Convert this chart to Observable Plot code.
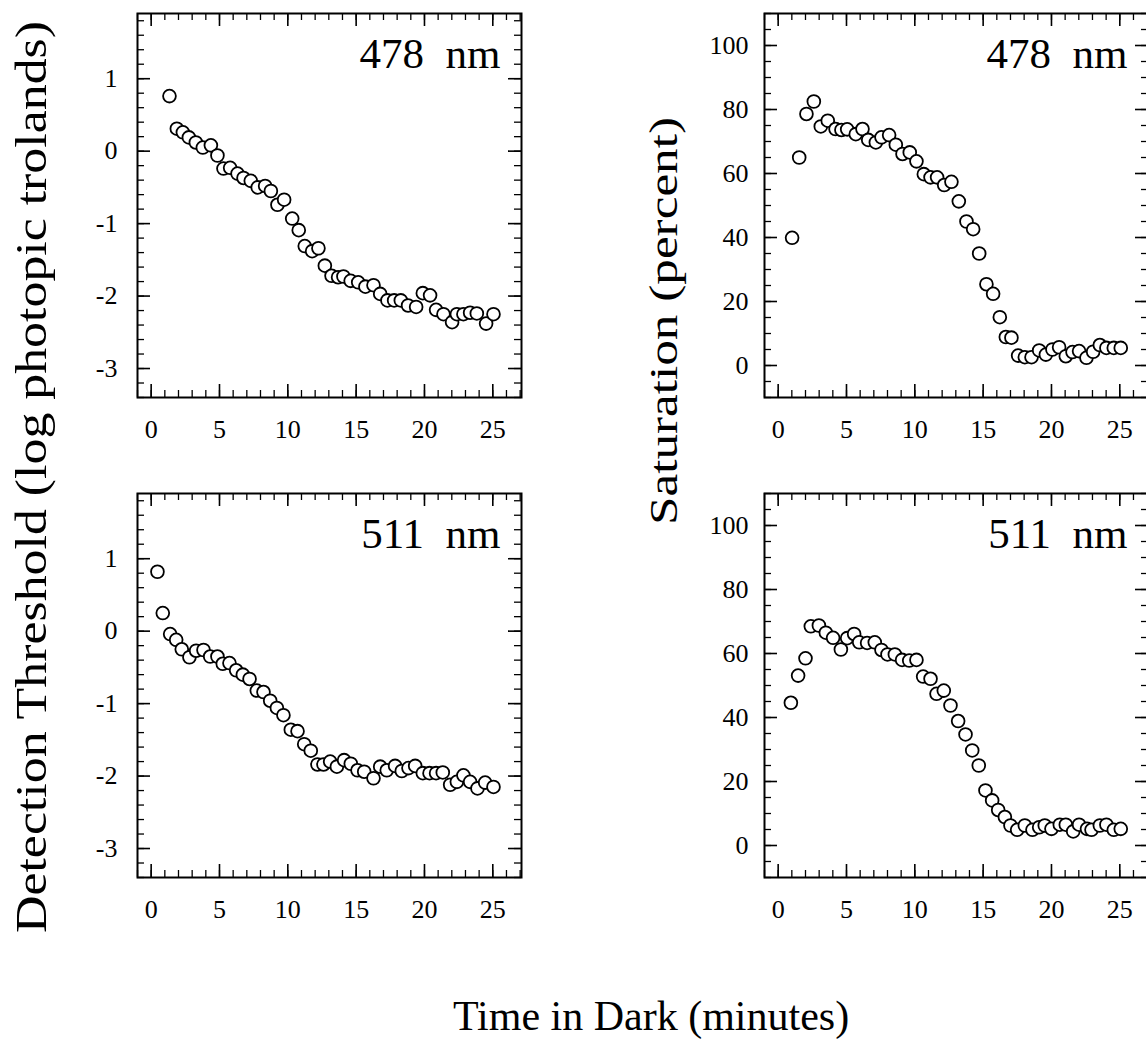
<!DOCTYPE html>
<html><head><meta charset="utf-8">
<script src="https://cdn.jsdelivr.net/npm/d3@7"></script>
<script src="https://cdn.jsdelivr.net/npm/@observablehq/plot@0.6"></script>
<style>
html,body{margin:0;padding:0;background:#fff;overflow:hidden;}
#wrap{position:relative;width:1146px;height:1046px;overflow:hidden;background:#fff;}
#wrap svg.panel{position:absolute;}
#titles{position:absolute;left:0;top:0;}
</style></head><body><div id="wrap"></div>
<script>
// ---- data ----
const time478Thr = [1.34,1.88,2.32,2.76,3.27,3.78,4.37,4.85,5.29,5.78,6.32,6.76,7.29,7.8,8.34,8.76,9.24,9.73,10.32,10.8,11.24,11.78,12.24,12.71,13.2,13.68,14.07,14.6,15.15,15.68,16.27,16.76,17.29,17.78,18.27,18.8,19.39,19.88,20.41,20.85,21.39,22.02,22.37,22.85,23.34,23.83,24.51,25.05];
const thr478 = [0.76,0.31,0.26,0.19,0.12,0.05,0.08,-0.06,-0.24,-0.23,-0.31,-0.37,-0.41,-0.5,-0.48,-0.55,-0.74,-0.67,-0.93,-1.09,-1.31,-1.38,-1.34,-1.58,-1.72,-1.74,-1.73,-1.79,-1.81,-1.87,-1.85,-1.97,-2.06,-2.06,-2.06,-2.13,-2.15,-1.96,-1.99,-2.19,-2.25,-2.36,-2.25,-2.25,-2.23,-2.24,-2.38,-2.25];

const time478Sat = [1.02,1.54,2.07,2.61,3.12,3.63,4.2,4.63,5.05,5.68,6.17,6.59,7.15,7.56,8.12,8.61,9.1,9.63,10.12,10.66,11.15,11.63,12.15,12.68,13.22,13.78,14.27,14.71,15.24,15.73,16.22,16.66,17.07,17.56,18.05,18.54,19.1,19.59,20.07,20.56,21.05,21.54,22.02,22.56,23.05,23.54,24.02,24.56,25.07];
const sat478 = [39.9,65,78.6,82.5,74.7,76.5,73.9,73.6,73.8,72.3,73.9,70.5,69.7,71.3,72,69,66.1,66.6,63.8,59.8,58.8,58.8,56.4,57.4,51.3,45,42.6,35,25.4,22.4,15.1,8.9,8.7,3.1,2.6,2.6,4.7,3.4,5,5.7,2.9,4.2,4.5,2.4,4.3,6.4,5.5,5.5,5.5];

const time511Thr = [0.46,0.85,1.39,1.83,2.24,2.8,3.29,3.83,4.32,4.85,5.24,5.73,6.22,6.71,7.2,7.73,8.22,8.71,9.2,9.68,10.22,10.71,11.2,11.68,12.17,12.61,13.1,13.59,14.12,14.61,15.1,15.59,16.27,16.76,17.24,17.85,18.34,18.83,19.32,19.88,20.37,20.85,21.34,21.88,22.37,22.85,23.34,23.88,24.44,25.05];
const thr511 = [0.82,0.25,-0.04,-0.12,-0.25,-0.36,-0.27,-0.26,-0.35,-0.35,-0.45,-0.44,-0.54,-0.6,-0.66,-0.82,-0.84,-0.96,-1.06,-1.16,-1.36,-1.38,-1.56,-1.65,-1.84,-1.84,-1.8,-1.87,-1.78,-1.83,-1.92,-1.94,-2.03,-1.87,-1.92,-1.86,-1.93,-1.89,-1.86,-1.96,-1.96,-1.96,-1.95,-2.12,-2.08,-1.99,-2.08,-2.17,-2.09,-2.15];

const time511Sat = [0.93,1.46,2.0,2.39,2.98,3.49,4.02,4.59,5.05,5.56,5.93,6.51,7.07,7.56,8.0,8.54,9.07,9.59,10.12,10.61,11.15,11.59,12.12,12.61,13.17,13.71,14.2,14.68,15.17,15.66,16.1,16.59,17.0,17.49,18.05,18.61,19.1,19.51,20.0,20.61,21.05,21.59,22.02,22.6,22.93,23.54,24.02,24.56,25.07];
const sat511 = [44.6,53.1,58.5,68.5,68.75,66.5,64.9,61.25,64.8,66.1,63.5,63.3,63.5,61.1,59.7,59.7,58,57.8,58,52.8,52.1,47.4,48.4,43.75,38.9,34.7,29.7,25,17.2,14.1,11.1,8.9,6.25,4.9,6.25,4.9,5.7,6.25,5.2,6.5,6.5,4.4,6.5,5.2,4.9,6.25,6.5,4.9,5.2];

const xTicks = [0,5,10,15,20,25];
const thrTicks = [-3,-2,-1,0,1];
const satTicks = [0,20,40,60,80,100];
const panelLabels = ["478  nm","511  nm"];
const yTitleLeft = "Detection Threshold (log photopic trolands)";
const yTitleRight = "Saturation (percent)";
const xTitle = "Time in Dark (minutes)";

// ---- drawing ----
const FONT = "'Liberation Serif','Times New Roman',serif";
const FW = 384, FH = 384;
const xDomain = [-1, 27.1];
const xMinor = d3.range(-1, 28, 1);
const thrMinor = d3.range(-34, 19, 2).map(v => v / 10);
const satMinor = d3.range(-10, 111, 5);

function panel({times, values, yDomain, yMajor, yMinor, label, fx, fy, yPad}) {
  const mL = 80, mR = 12, mT = 4, mB = 60;
  const data = times.map((t, i) => ({t, v: values[i]}));
  const svg = Plot.plot({
    width: mL + FW + mR, height: mT + FH + mB,
    marginLeft: mL, marginRight: mR, marginTop: mT, marginBottom: mB,
    x: {domain: xDomain, axis: null},
    y: {domain: yDomain, axis: null},
    style: {fontFamily: FONT, fontSize: "25px", color: "#000", background: "transparent", overflow: "visible"},
    marks: [
      // minor ticks
      Plot.tickX(xMinor, {x: d => d, insetTop: FH - 7, stroke: "#000", strokeWidth: 1.3}),
      Plot.tickX(xMinor, {x: d => d, insetBottom: FH - 7, stroke: "#000", strokeWidth: 1.3}),
      Plot.tickY(yMinor, {y: d => d, insetRight: FW - 7, stroke: "#000", strokeWidth: 1.3}),
      Plot.tickY(yMinor, {y: d => d, insetLeft: FW - 7, stroke: "#000", strokeWidth: 1.3}),
      // major ticks
      Plot.tickX(xTicks, {x: d => d, insetTop: FH - 13, stroke: "#000", strokeWidth: 1.6}),
      Plot.tickX(xTicks, {x: d => d, insetBottom: FH - 13, stroke: "#000", strokeWidth: 1.6}),
      Plot.tickY(yMajor, {y: d => d, insetRight: FW - 13, stroke: "#000", strokeWidth: 1.6}),
      Plot.tickY(yMajor, {y: d => d, insetLeft: FW - 13, stroke: "#000", strokeWidth: 1.6}),
      Plot.frame({stroke: "#000", strokeWidth: 2}),
      Plot.axisX(xTicks, {tickSize: 0, tickPadding: 22, tickFormat: d => String(d), fontSize: 26, label: null, stroke: "#000", strokeWidth: 0.6}),
      Plot.axisY(yMajor, {tickSize: 0, tickPadding: yPad, tickFormat: d => String(d), fontSize: 26, label: null, stroke: "#000", strokeWidth: 0.6}),
      Plot.dot(data, {x: "t", y: "v", r: 6.4, stroke: "#000", fill: "#fff", strokeWidth: 1.8}),
      Plot.text([label], {text: d => d, frameAnchor: "top-right", dx: -21, dy: 54, lineAnchor: "bottom", fontSize: 43, fill: "#000"})
    ]
  });
  svg.classList.add("panel");
  svg.style.left = (fx - mL) + "px";
  svg.style.top = (fy - mT) + "px";
  return svg;
}

const wrap = document.getElementById("wrap");
wrap.appendChild(panel({times: time478Thr, values: thr478, yDomain: [-3.4, 1.9], yMajor: thrTicks, yMinor: thrMinor, label: panelLabels[0], fx: 137.3, fy: 12.7, yPad: 20}));
wrap.appendChild(panel({times: time478Sat, values: sat478, yDomain: [-10, 110], yMajor: satTicks, yMinor: satMinor, label: panelLabels[0], fx: 764.3, fy: 13.3, yPad: 16}));
wrap.appendChild(panel({times: time511Thr, values: thr511, yDomain: [-3.4, 1.9], yMajor: thrTicks, yMinor: thrMinor, label: panelLabels[1], fx: 137.3, fy: 493.3, yPad: 20}));
wrap.appendChild(panel({times: time511Sat, values: sat511, yDomain: [-10, 110], yMajor: satTicks, yMinor: satMinor, label: panelLabels[1], fx: 764.3, fy: 493.3, yPad: 16}));

// axis titles
const NS = "http://www.w3.org/2000/svg";
const tsvg = document.createElementNS(NS, "svg");
tsvg.setAttribute("id", "titles");
tsvg.setAttribute("width", 1146);
tsvg.setAttribute("height", 1046);
function addText(str, x, y, rot, size, len) {
  const t = document.createElementNS(NS, "text");
  t.setAttribute("transform", `translate(${x},${y}) rotate(${rot})`);
  t.setAttribute("text-anchor", "middle");
  t.setAttribute("font-family", FONT);
  t.setAttribute("font-size", size);
  t.setAttribute("fill", "#000");
  if (len) { t.setAttribute("textLength", len); t.setAttribute("lengthAdjust", "spacingAndGlyphs"); }
  t.textContent = str;
  tsvg.appendChild(t);
}
addText(yTitleLeft, 46, 477, -90, 45, 912);
addText(yTitleRight, 677, 321, -90, 40, 408);
addText(xTitle, 651, 1030, 0, 42, null);
wrap.appendChild(tsvg);
</script>
</body></html>
